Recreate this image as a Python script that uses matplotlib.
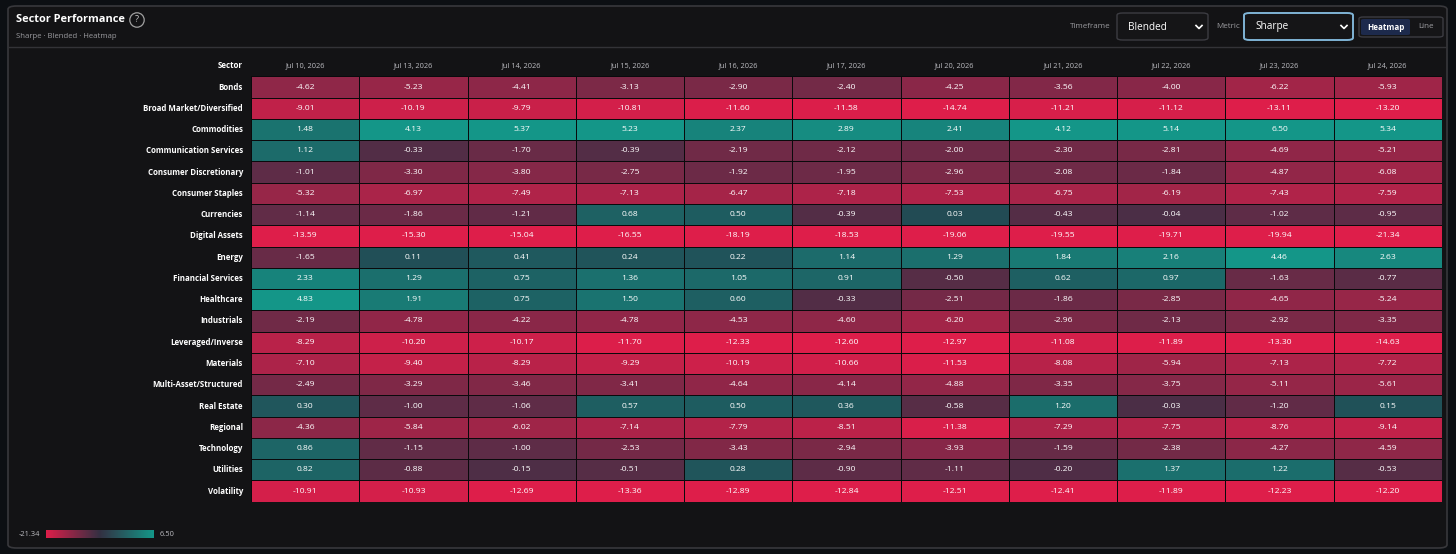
import numpy as np
import matplotlib
matplotlib.use("Agg")
import matplotlib.pyplot as plt
from matplotlib.colors import ListedColormap, LinearSegmentedColormap
from matplotlib.patches import FancyBboxPatch
from matplotlib.lines import Line2D

plt.rcParams['font.family'] = ['Open Sans', 'DejaVu Sans']

# ---- data ----
dates = ["Jul 10, 2026", "Jul 13, 2026", "Jul 14, 2026", "Jul 15, 2026", "Jul 16, 2026",
         "Jul 17, 2026", "Jul 20, 2026", "Jul 21, 2026", "Jul 22, 2026", "Jul 23, 2026",
         "Jul 24, 2026"]

sectors = ["Bonds", "Broad Market/Diversified", "Commodities", "Communication Services",
           "Consumer Discretionary", "Consumer Staples", "Currencies", "Digital Assets",
           "Energy", "Financial Services", "Healthcare", "Industrials", "Leveraged/Inverse",
           "Materials", "Multi-Asset/Structured", "Real Estate", "Regional", "Technology",
           "Utilities", "Volatility"]

sharpe = np.array([
    [-4.62, -5.23, -4.41, -3.13, -2.90, -2.40, -4.25, -3.56, -4.00, -6.22, -5.93],
    [-9.01, -10.19, -9.79, -10.81, -11.60, -11.58, -14.74, -11.21, -11.12, -13.11, -13.20],
    [1.48, 4.13, 5.37, 5.23, 2.37, 2.89, 2.41, 4.12, 5.14, 6.50, 5.34],
    [1.12, -0.33, -1.70, -0.39, -2.19, -2.12, -2.00, -2.30, -2.81, -4.69, -5.21],
    [-1.01, -3.30, -3.80, -2.75, -1.92, -1.95, -2.96, -2.08, -1.84, -4.87, -6.08],
    [-5.32, -6.97, -7.49, -7.13, -6.47, -7.18, -7.53, -6.75, -6.19, -7.43, -7.59],
    [-1.14, -1.86, -1.21, 0.68, 0.50, -0.39, 0.03, -0.43, -0.04, -1.02, -0.95],
    [-13.59, -15.30, -15.04, -16.55, -18.19, -18.53, -19.06, -19.55, -19.71, -19.94, -21.34],
    [-1.65, 0.11, 0.41, 0.24, 0.22, 1.14, 1.29, 1.84, 2.16, 4.46, 2.63],
    [2.33, 1.29, 0.75, 1.36, 1.05, 0.91, -0.50, 0.62, 0.97, -1.63, -0.77],
    [4.83, 1.91, 0.75, 1.50, 0.60, -0.33, -2.51, -1.86, -2.85, -4.65, -5.24],
    [-2.19, -4.78, -4.22, -4.78, -4.53, -4.60, -6.20, -2.96, -2.13, -2.92, -3.35],
    [-8.29, -10.20, -10.17, -11.70, -12.33, -12.60, -12.97, -11.08, -11.89, -13.30, -14.63],
    [-7.10, -9.40, -8.29, -9.29, -10.19, -10.66, -11.53, -8.08, -5.94, -7.13, -7.72],
    [-2.49, -3.29, -3.46, -3.41, -4.64, -4.14, -4.88, -3.35, -3.75, -5.11, -5.61],
    [0.30, -1.00, -1.06, 0.57, 0.50, 0.36, -0.58, 1.20, -0.03, -1.20, 0.15],
    [-4.36, -5.84, -6.02, -7.14, -7.79, -8.51, -11.38, -7.29, -7.75, -8.76, -9.14],
    [0.86, -1.15, -1.00, -2.53, -3.43, -2.94, -3.93, -1.59, -2.38, -4.27, -4.59],
    [0.82, -0.88, -0.15, -0.51, 0.28, -0.90, -1.11, -0.20, 1.37, 1.22, -0.53],
    [-10.91, -10.93, -12.69, -13.36, -12.89, -12.84, -12.51, -12.41, -11.89, -12.23, -12.20],
])

W, H = 1456, 554
def fx(px): return px / W
def fy(py): return 1 - py / H

# colours
RED = np.array([222, 30, 74]) / 255
RED_DARK = np.array([74, 46, 70]) / 255
TEAL = np.array([20, 150, 136]) / 255
TEAL_DARK = np.array([34, 72, 82]) / 255

# split colormap: lower half red side, upper half teal side
n = 256
t = np.linspace(0, 1, n)[:, None]
neg = RED_DARK + (RED - RED_DARK) * t          # t=0 near zero
pos = TEAL_DARK + (TEAL - TEAL_DARK) * t
cmap = ListedColormap(np.vstack([neg[::-1], pos]))

def shade(v):
    vmin, vmax = sharpe.min(), sharpe.max()
    tn = np.clip(np.abs(v) / (0.56 * abs(vmin)), 0, 1) ** 0.8
    tp = np.clip(v / (0.54 * vmax), 0, 1) ** 0.7
    return np.where(v < 0, 0.5 - 0.5 * tn, 0.5 + 0.5 * tp)

fig = plt.figure(figsize=(W / 100, H / 100), dpi=100)
fig.patch.set_facecolor('#0c0f13')

# card panel
card = FancyBboxPatch((fx(8), fy(548)), fx(1447) - fx(8), fy(6) - fy(548),
                      boxstyle="round,pad=0,rounding_size=0.006",
                      transform=fig.transFigure, facecolor='#131315',
                      edgecolor='#38383c', linewidth=1.2, zorder=-5)
fig.patches.append(card)
fig.add_artist(Line2D([fx(9), fx(1446)], [fy(47), fy(47)], transform=fig.transFigure,
                      color='#333337', linewidth=1, zorder=-4))

# header
fig.text(fx(16), fy(20), "Sector Performance", color='white', fontsize=7.9,
         fontweight='bold', va='center')
fig.text(fx(137), fy(20), "?", color='#c8c8c8', fontsize=6.5, va='center', ha='center',
         bbox=dict(boxstyle='circle,pad=0.3', facecolor='none', edgecolor='#a0a0a0', linewidth=0.9))
fig.text(fx(16), fy(36), "Sharpe · Blended · Heatmap", color='#9a9a9e', fontsize=5.6,
         va='center')

def dropdown(x0, x1, label, edge, lw):
    box = FancyBboxPatch((fx(x0), fy(40)), fx(x1) - fx(x0), fy(13) - fy(40),
                         boxstyle="round,pad=0,rounding_size=0.004",
                         transform=fig.transFigure, facecolor='#151517',
                         edgecolor=edge, linewidth=lw, zorder=-3)
    fig.patches.append(box)
    fig.text(fx(x0 + 11), fy(27), label, color='white', fontsize=7.2, va='center')
    cx = x1 - 9
    fig.add_artist(Line2D([fx(cx - 3), fx(cx), fx(cx + 3)], [fy(25.5), fy(28.5), fy(25.5)],
                          transform=fig.transFigure, color='white', linewidth=1.2))

fig.text(fx(1111), fy(27), "Timeframe", color='#9a9a9e', fontsize=5.8, va='center', ha='right')
dropdown(1117, 1208, "Blended", '#3c3c42', 1.0)
fig.text(fx(1240), fy(27), "Metric", color='#9a9a9e', fontsize=5.8, va='center', ha='right')
dropdown(1244, 1353, "Sharpe", '#7fb4d6', 1.4)

seg = FancyBboxPatch((fx(1359), fy(37)), fx(1443) - fx(1359), fy(17) - fy(37),
                     boxstyle="round,pad=0,rounding_size=0.003", transform=fig.transFigure,
                     facecolor='#151517', edgecolor='#3c3c42', linewidth=1, zorder=-3)
fig.patches.append(seg)
active = FancyBboxPatch((fx(1361), fy(35)), fx(1410) - fx(1361), fy(19) - fy(35),
                        boxstyle="round,pad=0,rounding_size=0.002", transform=fig.transFigure,
                        facecolor='#1d2a4c', edgecolor='none', zorder=-2)
fig.patches.append(active)
fig.text(fx(1385.5), fy(27), "Heatmap", color='white', fontsize=5.8, fontweight='bold',
         va='center', ha='center')
fig.text(fx(1426), fy(27), "Line", color='#a0a0a4', fontsize=5.8, va='center', ha='center')

# heatmap
left, right, top, bottom = 251, 1442, 76.4, 501.7
ax = fig.add_axes([fx(left), fy(bottom), fx(right) - fx(left), fy(top) - fy(bottom)])
ax.pcolormesh(shade(sharpe), cmap=cmap, vmin=0, vmax=1,
              edgecolors='#0a0a0c', linewidth=0.6)
ax.set_xlim(0, len(dates))
ax.set_ylim(len(sectors), 0)
ax.axis('off')

for i, name in enumerate(sectors):
    ax.text(-0.075, i + 0.5, name, color='white', fontsize=5.7, fontweight='bold',
            ha='right', va='center', clip_on=False)
    for j in range(len(dates)):
        ax.text(j + 0.5, i + 0.5, f"{sharpe[i, j]:.2f}", color='white', fontsize=6.1,
                ha='center', va='center')
ax.text(-0.075, -0.5, "Sector", color='white', fontsize=5.7, fontweight='bold',
        ha='right', va='center', clip_on=False)
for j, d in enumerate(dates):
    ax.text(j + 0.5, -0.5, d, color='#bdbdc2', fontsize=5.3, ha='center', va='center',
            clip_on=False)

# legend gradient bar
cax = fig.add_axes([fx(46), fy(538), fx(154) - fx(46), fy(530) - fy(538)])
grad_cmap = LinearSegmentedColormap.from_list("grad", [RED, (0.20, 0.19, 0.26), TEAL])
cax.imshow(np.linspace(0, 1, 256)[None, :], aspect='auto', cmap=grad_cmap,
           extent=[sharpe.min(), sharpe.max(), 0, 1])
cax.axis('off')
fig.text(fx(40), fy(534), f"{sharpe.min():.2f}", color='#bdbdc2', fontsize=5.4,
         ha='right', va='center')
fig.text(fx(160), fy(534), f"{sharpe.max():.2f}", color='#bdbdc2', fontsize=5.4,
         ha='left', va='center')

fig.savefig("out.png", dpi=100, facecolor=fig.get_facecolor())
